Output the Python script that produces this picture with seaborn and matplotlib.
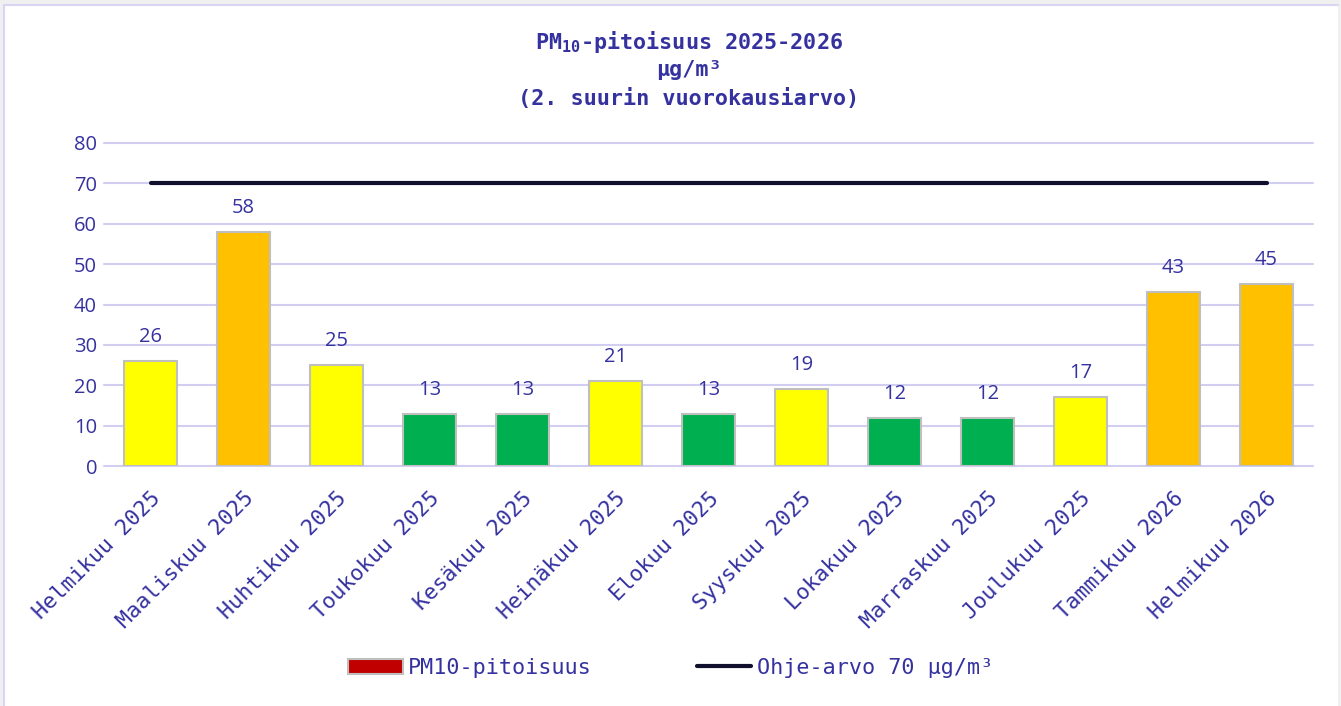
import numpy as np
import pandas as pd
import matplotlib
matplotlib.use("Agg")
import matplotlib.pyplot as plt
from matplotlib.patches import Rectangle, Patch
from matplotlib.lines import Line2D
import seaborn as sns

# data
months = ["Helmikuu 2025", "Maaliskuu 2025", "Huhtikuu 2025", "Toukokuu 2025",
          "Kesäkuu 2025", "Heinäkuu 2025", "Elokuu 2025", "Syyskuu 2025",
          "Lokakuu 2025", "Marraskuu 2025", "Joulukuu 2025", "Tammikuu 2026",
          "Helmikuu 2026"]
pm10 = [26, 58, 25, 13, 13, 21, 13, 19, 12, 12, 17, 43, 45]
limit = 70

YELLOW, ORANGE, GREEN = "#FFFF00", "#FFC000", "#00B050"
TXT = "#3532A0"
GRID = "#D2CEF2"
MONO = "DejaVu Sans Mono"
SANS = "Open Sans"
FS = 15.7


def bar_color(v):
    if v >= 35:
        return ORANGE
    if v >= 15:
        return YELLOW
    return GREEN


df = pd.DataFrame({"month": months, "pm10": pm10})
colors = [bar_color(v) for v in pm10]

sns.set_theme(style="white")
fig = plt.figure(figsize=(13.41, 7.06), dpi=100, facecolor="#F0F0F0")

# white chart area with lavender top/left border
fig.patches.append(Rectangle((4 / 1341, 0), 1334 / 1341, 701 / 706,
                             transform=fig.transFigure, facecolor="white",
                             edgecolor="none", zorder=-5))
fig.lines.append(Line2D([4 / 1341, 4 / 1341], [0, 701 / 706], transform=fig.transFigure,
                        color="#D8D4F4", lw=1.5, zorder=-4))
fig.lines.append(Line2D([4 / 1341, 1338 / 1341], [701 / 706, 701 / 706],
                        transform=fig.transFigure, color="#D8D4F4", lw=1.5, zorder=-4))

ax = fig.add_axes([104 / 1341, (706 - 466) / 706, (1313 - 104) / 1341, (466 - 143) / 706])
ax.set_facecolor("none")
ax.set_zorder(2)

sns.barplot(data=df, x="month", y="pm10", hue="month", palette=colors,
            legend=False, width=0.56, edgecolor="#BFBFBF", linewidth=1.5,
            saturation=1, ax=ax, zorder=3)

x = np.arange(len(months))
ax.plot(x, [limit] * len(months), color="#10102E", lw=3, solid_capstyle="round", zorder=4)

for xi, v in zip(x, pm10):
    ax.annotate(str(v), (xi, v), xytext=(0, 10), textcoords="offset points",
                ha="center", va="bottom", fontsize=14.5, color=TXT, family=SANS)

ax.set_xlim(-0.5, len(months) - 0.5)
ax.set_ylim(0, 80)
ax.set_yticks(range(0, 81, 10))
ax.yaxis.grid(True, color=GRID, lw=1.5, zorder=0)
for gl in ax.get_ygridlines():
    gl.set_clip_on(False)
ax.set_axisbelow(True)
for s in ax.spines.values():
    s.set_visible(False)
ax.set_xlabel("")
ax.set_ylabel("")
ax.tick_params(axis="y", length=0, pad=5, labelcolor=TXT, labelsize=14.5)
for lab in ax.get_yticklabels():
    lab.set_family(SANS)
ax.tick_params(axis="x", length=0, pad=16)
ax.set_xticks(x)
ax.set_xticklabels(months, rotation=45, ha="right", rotation_mode="anchor",
                   fontsize=FS, color=TXT, family=MONO)

# title
tx = 689 / 1341
fig.text(tx, 1 - 42 / 706, r"PM$_{\mathregular{10}}$-pitoisuus 2025-2026", ha="center", va="center",
         fontsize=FS, fontweight="bold", color=TXT, family=MONO)
fig.text(tx, 1 - 70 / 706, "µg/m³", ha="center", va="center",
         fontsize=FS, fontweight="bold", color=TXT, family=MONO)
fig.text(tx, 1 - 98 / 706, "(2. suurin vuorokausiarvo)", ha="center", va="center",
         fontsize=FS, fontweight="bold", color=TXT, family=MONO)

handles = [Patch(facecolor="#C00000", edgecolor="#BFBFBF", lw=1.5),
           Line2D([], [], color="#10102E", lw=3, solid_capstyle="round")]
leg = fig.legend(handles, ["PM10-pitoisuus", "Ohje-arvo 70 µg/m³"], loc="center",
                 bbox_to_anchor=(0.5, 1 - 668 / 706), ncol=2, frameon=False,
                 handlelength=2.5, handleheight=0.7, handletextpad=0.25,
                 columnspacing=4.8, prop={"family": MONO, "size": FS})
for t in leg.get_texts():
    t.set_color(TXT)

fig.savefig("out.png", dpi=100, facecolor=fig.get_facecolor())
